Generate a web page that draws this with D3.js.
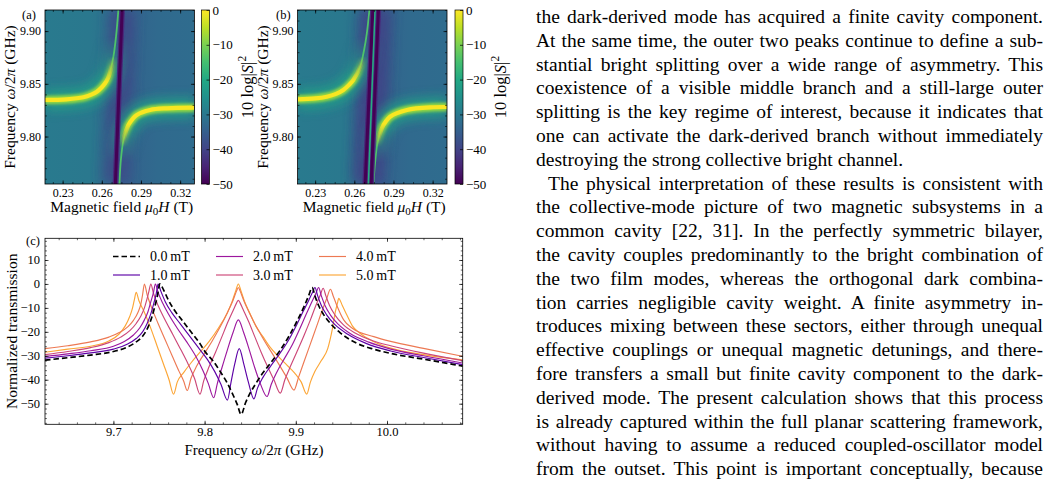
<!DOCTYPE html>
<html>
<head>
<meta charset="utf-8">
<script src="https://cdn.jsdelivr.net/npm/d3@7"></script>
<style>
  body { margin: 0; background: #fff; }
  svg { display: block; font-family: "Liberation Serif", "Times New Roman", serif; }
</style>
</head>
<body>
<svg id="fig" width="1051" height="481"></svg>
<script>
// ---------- data ----------
const fieldDomain = [0.2165, 0.331];
const freqDomain = [9.755, 9.92];
const fieldTicks = [0.23, 0.26, 0.29, 0.32];
const freqTicks = [9.80, 9.85, 9.90];
const cbarTicks = [0, -10, -20, -30, -40, -50];

const upperA = [[0.2165,9.8347],[0.2331,9.8353],[0.2459,9.8372],[0.2520,9.8398],[0.2562,9.8425],[0.2600,9.8468],[0.2625,9.8505],[0.2648,9.8555],[0.2664,9.8615],[0.2689,9.8757],[0.2709,9.8947],[0.2727,9.92]];
const lowerA = [[0.2735,9.755],[0.2746,9.7778],[0.2766,9.7968],[0.2785,9.805],[0.2804,9.811],[0.2835,9.8165],[0.2868,9.8205],[0.2970,9.8252],[0.3098,9.8268],[0.331,9.8274]];
const darkA = [[[0.2704,9.755],[0.2756,9.92]]];
const midA = [];

// heatmap (b)
const upperB = [[0.2163,9.8353],[0.2300,9.8362],[0.2389,9.8378],[0.2460,9.8405],[0.2516,9.8442],[0.2560,9.8490],[0.2593,9.8537],[0.2645,9.8663],[0.2675,9.8821],[0.2696,9.8979],[0.2716,9.92]];
const lowerB = [[0.2746,9.755],[0.2759,9.7747],[0.2777,9.7936],[0.2811,9.8079],[0.2840,9.8140],[0.2874,9.8188],[0.3003,9.8252],[0.3207,9.8278],[0.3312,9.828]];
const darkB = [[[0.2683,9.755],[0.2742,9.92]], [[0.2729,9.755],[0.2785,9.92]]];
const midB = [[[0.2708,9.755],[0.2759,9.92]]];

// panel (c): normalized transmission [GHz, dB]
const seriesLabels = ["0.0\u2009mT", "1.0\u2009mT", "2.0\u2009mT", "3.0\u2009mT", "4.0\u2009mT", "5.0\u2009mT"];
const seriesColors = ["#000000", "#5c01a6", "#9c179e", "#cc4778", "#ed7953", "#fca636"];
const freqTicksC = [9.7, 9.8, 9.9, 10.0];
const dbTicks = [10, 0, -10, -20, -30, -40, -50];

const t0 = [[9.625,-31.8],[9.65,-30.8],[9.675,-29.7],[9.7,-28.2],[9.715,-26.4],[9.725,-24.2],[9.732,-21.8],[9.738,-18],[9.742,-14],[9.745,-10],[9.748,-5.5],[9.751,0],[9.755,-2.5],[9.760,-6.5],[9.767,-11],[9.775,-15],[9.785,-20],[9.795,-25],[9.80,-28],[9.81,-32.5],[9.817,-36.5],[9.825,-41.5],[9.832,-47],[9.836,-50.5],[9.840,-54.5],[9.845,-49.5],[9.85,-45.5],[9.855,-42.3],[9.861,-38.7],[9.872,-33.2],[9.883,-27.6],[9.893,-21.5],[9.902,-15],[9.909,-9.5],[9.914,-5],[9.918,-1.5],[9.921,-5],[9.925,-9],[9.930,-12.5],[9.938,-16.5],[9.949,-20.5],[9.967,-24.8],[9.985,-27.2],[10.004,-29],[10.04,-31.4],[10.083,-34.3]];
const t1 = [[9.625,-31],[9.65,-30],[9.675,-28.8],[9.7,-27.2],[9.715,-25.2],[9.725,-22.8],[9.732,-20],[9.737,-16.5],[9.741,-12.5],[9.744,-8.5],[9.747,-4],[9.749,0],[9.752,-3],[9.757,-7.5],[9.764,-12],[9.773,-16.5],[9.783,-21.5],[9.793,-26.5],[9.803,-31.5],[9.811,-36.5],[9.818,-42],[9.825,-48.5],[9.829,-41],[9.833,-33.5],[9.838,-27],[9.843,-33.5],[9.848,-41],[9.854,-48],[9.858,-43.5],[9.864,-39],[9.872,-34.5],[9.882,-29.3],[9.892,-23.5],[9.901,-17],[9.908,-11.5],[9.914,-7],[9.918,-3.8],[9.921,-1.5],[9.924,-5],[9.928,-9],[9.934,-13],[9.943,-17],[9.957,-21],[9.977,-24.8],[10.004,-28],[10.04,-30.7],[10.083,-33.7]];
const t2 = [[9.625,-30.3],[9.65,-29.2],[9.675,-27.9],[9.7,-26],[9.712,-24],[9.722,-21.3],[9.729,-18.3],[9.734,-15],[9.738,-11.5],[9.741,-7.5],[9.744,-3.5],[9.746,0],[9.749,-3.5],[9.754,-8],[9.761,-13],[9.770,-18.5],[9.780,-24],[9.790,-30],[9.798,-36],[9.804,-41.5],[9.810,-47.5],[9.814,-41.5],[9.819,-35],[9.825,-27.5],[9.831,-20.5],[9.837,-15],[9.843,-20.5],[9.849,-27.5],[9.855,-35],[9.861,-41.5],[9.8685,-47],[9.873,-42],[9.879,-37],[9.887,-31.5],[9.896,-25.5],[9.904,-19],[9.911,-13],[9.917,-8],[9.922,-4],[9.925,-1.5],[9.928,-5],[9.932,-9],[9.938,-13],[9.947,-17],[9.96,-20.8],[9.98,-24.3],[10.004,-27.2],[10.04,-30],[10.083,-33]];
const t3 = [[9.625,-29.5],[9.65,-28.2],[9.675,-26.6],[9.695,-24.5],[9.708,-22.2],[9.718,-19.5],[9.725,-16.5],[9.730,-13.5],[9.734,-10],[9.737,-6],[9.739,-3],[9.741,0],[9.744,-4],[9.749,-9],[9.756,-14.5],[9.765,-21],[9.774,-27.5],[9.782,-33.5],[9.789,-39.5],[9.795,-46],[9.799,-40.5],[9.805,-34.5],[9.812,-28.5],[9.819,-22],[9.826,-15.5],[9.832,-10.5],[9.835,-8],[9.837,-6.8],[9.839,-8],[9.842,-10.5],[9.848,-15.5],[9.855,-22],[9.862,-28.5],[9.869,-34.5],[9.876,-40],[9.883,-45.6],[9.888,-40],[9.894,-34.5],[9.901,-28.5],[9.909,-21.5],[9.916,-15],[9.922,-9],[9.927,-4.5],[9.930,-1.8],[9.933,-5],[9.937,-9],[9.943,-13],[9.952,-17],[9.965,-20.5],[9.985,-23.8],[10.004,-25.8],[10.04,-28.9],[10.083,-32]];
const t4 = [[9.625,-27],[9.65,-25.8],[9.675,-24.2],[9.695,-22.2],[9.707,-20.2],[9.716,-17.8],[9.722,-15.2],[9.727,-11.8],[9.730,-8.5],[9.732,-4.5],[9.734,0],[9.737,-4.5],[9.742,-10],[9.749,-16.5],[9.757,-23.5],[9.765,-30.5],[9.772,-36.5],[9.777,-40.5],[9.781,-44.5],[9.785,-39.5],[9.791,-34.5],[9.799,-29.5],[9.808,-24],[9.817,-18],[9.825,-12],[9.831,-7],[9.835,-3],[9.837,-1.5],[9.839,-3],[9.843,-7],[9.849,-12],[9.857,-18],[9.866,-24],[9.875,-29.5],[9.883,-34.5],[9.890,-39],[9.898,-44.3],[9.903,-39],[9.909,-32.5],[9.916,-25],[9.923,-17.5],[9.929,-11],[9.934,-6],[9.938,-2.2],[9.941,-5],[9.945,-9],[9.9525,-15],[9.962,-18.5],[9.9855,-22],[10.004,-24],[10.04,-26.9],[10.083,-30.2]];
const t5 = [[9.625,-28.5],[9.65,-27.2],[9.675,-26],[9.695,-23.8],[9.706,-21],[9.713,-17.5],[9.718,-13.5],[9.721,-10],[9.723,-6.5],[9.725,-3.5],[9.728,-7],[9.733,-11],[9.740,-17.5],[9.748,-26],[9.755,-33.5],[9.761,-40],[9.766,-46],[9.770,-41],[9.777,-37],[9.785,-33],[9.795,-28.5],[9.805,-24],[9.815,-18.5],[9.8247,-12.2],[9.830,-7.5],[9.834,-3],[9.837,0],[9.840,-3],[9.844,-7.5],[9.8496,-12.2],[9.856,-17.5],[9.864,-22],[9.872,-26.5],[9.881,-30.3],[9.890,-33.8],[9.899,-37.3],[9.906,-41],[9.912,-46],[9.916,-41],[9.921,-36.5],[9.928,-32],[9.935,-27],[9.940,-19],[9.9434,-11.6],[9.946,-7.5],[9.947,-6],[9.951,-9],[9.956,-13],[9.962,-17.5],[9.97,-20.5],[9.985,-24],[10.004,-26.8],[10.04,-29.5],[10.083,-31.7]];
const traces = [t0, t1, t2, t3, t4, t5];

// body text, one entry per printed line
const bodyLines = [
  "the dark-derived mode has acquired a finite cavity component.",
  "At the same time, the outer two peaks continue to define a sub-",
  "stantial bright splitting over a wide range of asymmetry. This",
  "coexistence of a visible middle branch and a still-large outer",
  "splitting is the key regime of interest, because it indicates that",
  "one can activate the dark-derived branch without immediately",
  "destroying the strong collective bright channel.",
  "The physical interpretation of these results is consistent with",
  "the collective-mode picture of two magnetic subsystems in a",
  "common cavity [22, 31]. In the perfectly symmetric bilayer,",
  "the cavity couples predominantly to the bright combination of",
  "the two film modes, whereas the orthogonal dark combina-",
  "tion carries negligible cavity weight. A finite asymmetry in-",
  "troduces mixing between these sectors, either through unequal",
  "effective couplings or unequal magnetic detunings, and there-",
  "fore transfers a small but finite cavity component to the dark-",
  "derived mode. The present calculation shows that this process",
  "is already captured within the full planar scattering framework,",
  "without having to assume a reduced coupled-oscillator model",
  "from the outset. This point is important conceptually, because"
];
const indentLines = [7];
const raggedLines = [6];

// ---------- setup ----------
const svg = d3.select("#fig");
const defs = svg.append("defs");
const vir = d3.interpolateViridis;

function blur(id, sd) {
  defs.append("filter").attr("id", id)
    .attr("filterUnits", "userSpaceOnUse")
    .attr("x", 0).attr("y", 0).attr("width", 1051).attr("height", 481)
    .append("feGaussianBlur").attr("stdDeviation", sd);
}
blur("b6", 6); blur("b4", 3.5); blur("b2", 1.6); blur("b1", 0.7);

// background gradient of the maps
const bg = defs.append("linearGradient").attr("id", "mapbg")
  .attr("x1", 0).attr("x2", 1).attr("y1", 0).attr("y2", 0);
[[0, 0.41], [0.3, 0.40], [0.44, 0.36], [0.56, 0.31], [0.75, 0.34], [1, 0.35]].forEach(s =>
  bg.append("stop").attr("offset", s[0]).attr("stop-color", vir(s[1])));

// colorbar gradient
const cg = defs.append("linearGradient").attr("id", "cbar")
  .attr("x1", 0).attr("x2", 0).attr("y1", 1).attr("y2", 0);
d3.range(0, 1.0001, 0.1).forEach(t =>
  cg.append("stop").attr("offset", t).attr("stop-color", vir(t)));

// vertical fade mask (white = visible)
function fadeMask(id, yVisible, yHidden, box) {
  const gr = defs.append("linearGradient").attr("id", id + "g")
    .attr("gradientUnits", "userSpaceOnUse")
    .attr("x1", 0).attr("x2", 0).attr("y1", yVisible).attr("y2", yHidden);
  gr.append("stop").attr("offset", 0).attr("stop-color", "#fff");
  gr.append("stop").attr("offset", 1).attr("stop-color", "#000");
  defs.append("mask").attr("id", id).attr("maskUnits", "userSpaceOnUse")
    .attr("x", box[0]).attr("y", box[1]).attr("width", box[2]).attr("height", box[3])
    .append("rect").attr("x", box[0]).attr("y", box[1]).attr("width", box[2]).attr("height", box[3])
    .attr("fill", `url(#${id}g)`);
}

function inwardTicks(g, scale, side, major, minor, len, fmt, fontSize, pad) {
  const mk = { bottom: d3.axisBottom, top: d3.axisTop, left: d3.axisLeft, right: d3.axisRight }[side];
  const a = g.append("g").call(mk(scale).tickValues(major).tickSize(-len).tickPadding(pad || 4)
    .tickFormat(fmt ? fmt : ""));
  a.select(".domain").remove();
  a.selectAll("text").attr("font-size", fontSize).attr("fill", "#000")
    .attr("font-family", "Liberation Serif, serif");
  a.selectAll("line").attr("stroke-width", 0.7);
  if (minor) {
    const b = g.append("g").call(mk(scale).tickValues(minor).tickSize(-len * 0.55).tickFormat(""));
    b.select(".domain").remove();
    b.selectAll("line").attr("stroke-width", 0.6);
  }
  return a;
}

// ---------- heatmaps ----------
function heatmap(o) {
  const x = d3.scaleLinear().domain(fieldDomain).range([o.left, o.left + 149.5]);
  const y = d3.scaleLinear().domain(freqDomain).range([184, 10]);
  const [x0, x1] = x.range(), [y1, y0] = y.range();
  const box = [x0, y0, x1 - x0, y1 - y0];
  const line = d3.line().x(d => x(d[0])).y(d => y(d[1])).curve(d3.curveCatmullRom);

  defs.append("clipPath").attr("id", "clip" + o.id)
    .append("rect").attr("x", x0).attr("y", y0).attr("width", x1 - x0).attr("height", y1 - y0);
  fadeMask("mu" + o.id, y(9.852), y(9.876), box);
  fadeMask("ml" + o.id, y(9.812), y(9.790), box);
  fadeMask("hu" + o.id, y(9.858), y(9.895), box);
  fadeMask("hl" + o.id, y(9.806), y(9.775), box);

  const g = svg.append("g").attr("clip-path", `url(#clip${o.id})`);

  g.append("rect").attr("x", x0).attr("y", y0).attr("width", x1 - x0).attr("height", y1 - y0)
    .attr("fill", "url(#mapbg)");

  // dark halo around the dark-mode line
  o.dark.forEach(d => {
    g.append("path").attr("d", line(d)).attr("fill", "none")
      .attr("stroke", vir(0.2)).attr("stroke-width", 26).attr("opacity", 0.75).attr("filter", "url(#b6)");
  });

  const branches = [[o.upper, "u"], [o.lower, "l"]];
  // green halo along the bright branches
  branches.forEach(([br, k]) => {
    g.append("g").attr("mask", `url(#h${k}${o.id})`)
      .append("path").attr("d", line(br)).attr("fill", "none")
      .attr("stroke", vir(0.58)).attr("stroke-width", 20).attr("opacity", 0.85)
      .attr("filter", "url(#b6)");
  });
  // thin continuation near the dark line
  branches.forEach(([br]) => {
    g.append("path").attr("d", line(br)).attr("fill", "none")
      .attr("stroke", vir(0.72)).attr("stroke-width", 1.8);
  });
  // bright core, fading out where the branch turns vertical
  branches.forEach(([br, k]) => {
    const m = g.append("g").attr("mask", `url(#m${k}${o.id})`);
    m.append("path").attr("d", line(br)).attr("fill", "none")
      .attr("stroke", vir(0.84)).attr("stroke-width", 8.5).attr("filter", "url(#b2)");
    m.append("path").attr("d", line(br)).attr("fill", "none")
      .attr("stroke", vir(0.99)).attr("stroke-width", 4.2).attr("filter", "url(#b1)");
  });

  // dark lines
  o.dark.forEach(d => {
    g.append("path").attr("d", line(d)).attr("fill", "none")
      .attr("stroke", vir(0.12)).attr("stroke-width", 5.5).attr("filter", "url(#b1)");
    g.append("path").attr("d", line(d)).attr("fill", "none")
      .attr("stroke", vir(0.0)).attr("stroke-width", 3);
  });
  o.mid.forEach(d => {
    g.append("path").attr("d", line(d)).attr("fill", "none")
      .attr("stroke", vir(0.62)).attr("stroke-width", 1.5);
  });

  // axes
  const ax = svg.append("g");
  const xMinor = d3.range(-2, 14).map(k => 0.2225 + k * 0.0075).filter(v => v > fieldDomain[0] && v < fieldDomain[1]);
  const yMinor = d3.range(9.76, 9.92, 0.01);
  inwardTicks(ax.append("g").attr("transform", `translate(0,${y1})`), x, "bottom", fieldTicks, xMinor, 3.5, d3.format(".2f"), 12, 4);
  inwardTicks(ax.append("g").attr("transform", `translate(0,${y0})`), x, "top", fieldTicks, xMinor, 3.5, null, 12);
  inwardTicks(ax.append("g").attr("transform", `translate(${x0},0)`), y, "left", freqTicks, yMinor, 3.5, d3.format(".2f"), 12, 4);
  inwardTicks(ax.append("g").attr("transform", `translate(${x1},0)`), y, "right", freqTicks, yMinor, 3.5, null, 12);
  ax.append("rect").attr("x", x0).attr("y", y0).attr("width", x1 - x0).attr("height", y1 - y0)
    .attr("fill", "none").attr("stroke", "#000").attr("stroke-width", 0.8);

  // axis labels
  const xl = svg.append("text").attr("x", (x0 + x1) / 2 + 2).attr("y", 212).attr("text-anchor", "middle").attr("font-size", 15.5);
  xl.append("tspan").text("Magnetic field ");
  xl.append("tspan").attr("font-style", "italic").text("μ");
  xl.append("tspan").attr("font-size", 11).attr("dy", 3).text("0");
  xl.append("tspan").attr("font-style", "italic").attr("dy", -3).text("H");
  xl.append("tspan").text(" (T)");

  const yl = svg.append("text").attr("transform", `translate(${x0 - 30},${(y0 + y1) / 2}) rotate(-90)`)
    .attr("text-anchor", "middle").attr("font-size", 15.5);
  yl.append("tspan").text("Frequency ");
  yl.append("tspan").attr("font-style", "italic").text("ω");
  yl.append("tspan").text("/2");
  yl.append("tspan").attr("font-style", "italic").text("π");
  yl.append("tspan").text(" (GHz)");

  svg.append("text").attr("x", o.tag[0]).attr("y", o.tag[1]).attr("font-size", 12.5).text(o.label);

  // colorbar
  const cb = d3.scaleLinear().domain([-50, 0]).range([y1, y0]);
  const cx0 = o.cbar, cw = 8;
  svg.append("rect").attr("x", cx0).attr("y", y0).attr("width", cw).attr("height", y1 - y0)
    .attr("fill", "url(#cbar)").attr("stroke", "#000").attr("stroke-width", 0.7);
  const ca = svg.append("g").attr("transform", `translate(${cx0 + cw},0)`)
    .call(d3.axisRight(cb).tickValues(cbarTicks).tickSize(-3).tickPadding(3));
  ca.select(".domain").remove();
  ca.selectAll("text").attr("font-size", 13).attr("font-family", "Liberation Serif, serif");
  ca.selectAll("line").attr("stroke-width", 0.7);

  const cl = svg.append("text").attr("transform", `translate(${cx0 + 51},${(y0 + y1) / 2 - 10}) rotate(-90)`)
    .attr("text-anchor", "middle").attr("font-size", 16.5);
  cl.append("tspan").text("10 log|");
  cl.append("tspan").attr("font-style", "italic").text("S");
  cl.append("tspan").text("|");
  cl.append("tspan").attr("font-size", 11.5).attr("dy", -7).text("2");
}

heatmap({ id: "a", left: 45, cbar: 201.5, label: "(a)", tag: [22, 19], upper: upperA, lower: lowerA, dark: darkA, mid: midA });
heatmap({ id: "b", left: 297.5, cbar: 455, label: "(b)", tag: [276, 19], upper: upperB, lower: lowerB, dark: darkB, mid: midB });

// ---------- panel (c) ----------
const xc = d3.scaleLinear().domain([9.625, 10.083]).range([45, 462.7]);
const yc = d3.scaleLinear().domain([-58.6, 19.06]).range([424.3, 238.3]);
const [cx0, cx1] = xc.range(), [cy1, cy0] = yc.range();

defs.append("clipPath").attr("id", "clipc").append("rect")
  .attr("x", cx0).attr("y", cy0).attr("width", cx1 - cx0).attr("height", cy1 - cy0);

const lineC = d3.line().x(d => xc(d[0])).y(d => yc(d[1])).curve(d3.curveMonotoneX);
const pc = svg.append("g").attr("clip-path", "url(#clipc)");
// coloured traces first, dashed reference on top
[5, 4, 3, 2, 1, 0].forEach(i => {
  pc.append("path").datum(traces[i]).attr("d", lineC).attr("fill", "none")
    .attr("stroke", seriesColors[i])
    .attr("stroke-width", i === 0 ? 1.7 : 1.15)
    .attr("stroke-dasharray", i === 0 ? "5.5,3" : null);
});

const axc = svg.append("g");
const xMinorC = d3.range(9.64, 10.081, 0.02);
const yMinorC = d3.range(-58, 19, 2);
inwardTicks(axc.append("g").attr("transform", `translate(0,${cy1})`), xc, "bottom", freqTicksC, xMinorC, 3.5, d3.format(".1f"), 12.5, 3);
inwardTicks(axc.append("g").attr("transform", `translate(0,${cy0})`), xc, "top", freqTicksC, xMinorC, 3.5, null, 12.5);
inwardTicks(axc.append("g").attr("transform", `translate(${cx0},0)`), yc, "left", dbTicks, yMinorC, 3.5, d3.format("d"), 12.5, 5);
inwardTicks(axc.append("g").attr("transform", `translate(${cx1},0)`), yc, "right", dbTicks, yMinorC, 3.5, null, 12.5);
axc.append("rect").attr("x", cx0).attr("y", cy0).attr("width", cx1 - cx0).attr("height", cy1 - cy0)
  .attr("fill", "none").attr("stroke", "#000").attr("stroke-width", 0.8);

// legend, 3 columns filled column-wise
const leg = svg.append("g");
seriesLabels.forEach((lab, i) => {
  const col = Math.floor(i / 2), row = i % 2;
  const lx = 113 + col * 103, ly = 256.5 + row * 18.5;
  leg.append("line").attr("x1", lx).attr("x2", lx + 27).attr("y1", ly).attr("y2", ly)
    .attr("stroke", seriesColors[i]).attr("stroke-width", i === 0 ? 1.7 : 1.15)
    .attr("stroke-dasharray", i === 0 ? "5.5,3" : null);
  leg.append("text").attr("x", lx + 37).attr("y", ly + 4.8).attr("font-size", 14).text(lab);
});

const xlc = svg.append("text").attr("x", 254).attr("y", 455).attr("text-anchor", "middle").attr("font-size", 15);
xlc.append("tspan").text("Frequency ");
xlc.append("tspan").attr("font-style", "italic").text("ω");
xlc.append("tspan").text("/2");
xlc.append("tspan").attr("font-style", "italic").text("π");
xlc.append("tspan").text(" (GHz)");

svg.append("text").attr("transform", `translate(17,${(cy0 + cy1) / 2}) rotate(-90)`)
  .attr("text-anchor", "middle").attr("font-size", 15.5).text("Normalized transmission");
svg.append("text").attr("x", 26).attr("y", 245).attr("font-size", 12.5).text("(c)");

// ---------- body text column ----------
const textLeft = 536, textRight = 1043, lineStep = 23.8, firstBase = 23, bodySize = 19.5;
const tg = svg.append("g").attr("font-size", bodySize);
bodyLines.forEach((s, i) => {
  const indent = indentLines.includes(i) ? 12 : 0;
  const t = tg.append("text").attr("x", textLeft + indent).attr("y", firstBase + i * lineStep).text(s);
  if (!raggedLines.includes(i)) {
    const nat = t.node().getComputedTextLength();
    const gaps = (s.match(/ /g) || []).length;
    const target = textRight - textLeft - indent;
    if (gaps > 0) t.attr("word-spacing", (target - nat) / gaps);
  }
});
</script>
</body>
</html>
